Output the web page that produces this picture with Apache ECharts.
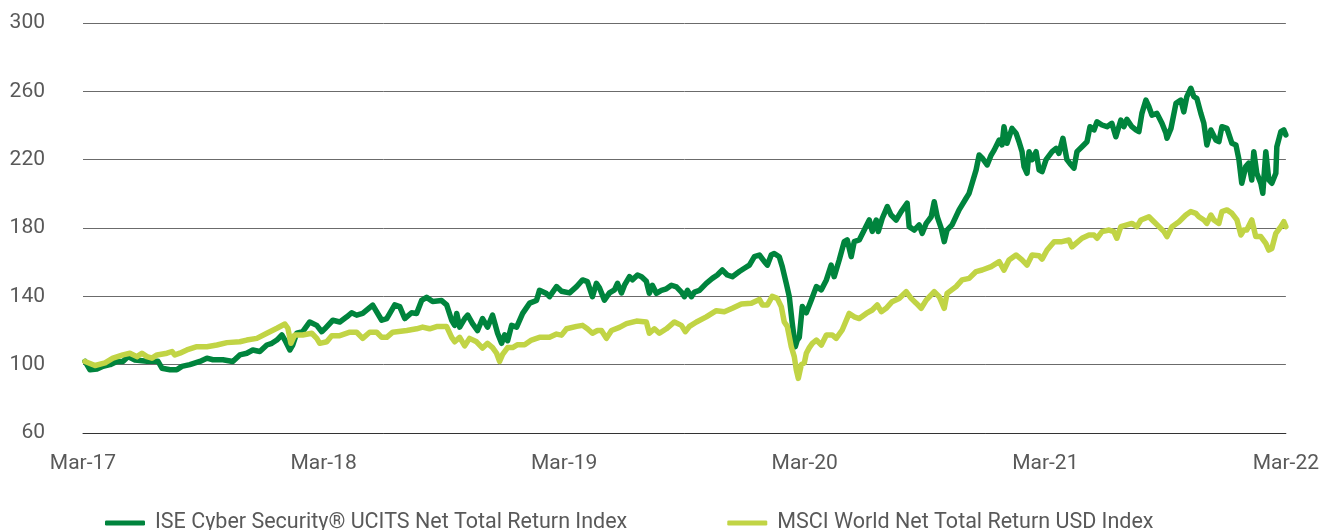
<!DOCTYPE html>
<html>
<head>
<meta charset="utf-8">
<script src="https://cdn.jsdelivr.net/npm/echarts@6/dist/echarts.min.js"></script>
<style>
html,body{margin:0;padding:0;background:#fff;}
#chart{width:1322px;height:530px;}
</style>
</head>
<body>
<div id="chart"></div>
<script>
// x positions in months since Mar-17
const tickLabels = ['Mar-17','Mar-18','Mar-19','Mar-20','Mar-21','Mar-22'];
const seriesNames = ['ISE Cyber Security® UCITS Net Total Return Index','MSCI World Net Total Return USD Index'];

const iseMonths = [0.10,0.35,0.70,1.00,1.35,1.69,1.99,2.24,2.59,3.19,3.74,3.94,4.34,4.68,4.93,5.33,5.83,6.18,6.48,6.98,7.47,7.82,8.17,8.47,8.82,9.17,9.42,9.67,9.92,10.07,10.32,10.46,10.66,10.96,11.31,11.66,11.91,12.06,12.46,12.81,13.16,13.40,13.65,13.95,14.45,14.90,15.15,15.55,15.80,16.05,16.39,16.64,16.89,17.14,17.44,17.89,18.14,18.39,18.54,18.64,18.79,19.04,19.19,19.43,19.68,19.93,20.18,20.43,20.68,20.88,21.03,21.18,21.38,21.63,21.93,22.28,22.62,22.77,23.12,23.27,23.62,23.87,24.27,24.62,24.92,25.16,25.41,25.61,25.76,26.01,26.26,26.51,26.66,26.86,27.01,27.26,27.41,27.66,27.86,28.10,28.25,28.40,28.60,28.85,29.10,29.35,29.60,29.85,30.00,30.15,30.35,30.50,30.75,31.09,31.39,31.64,31.89,32.14,32.39,32.74,32.99,33.24,33.49,33.74,33.99,34.14,34.33,34.48,34.73,34.88,35.08,35.23,35.38,35.53,35.63,35.73,35.88,36.08,36.33,36.58,36.83,37.08,37.32,37.47,37.72,37.97,38.12,38.32,38.47,38.72,38.97,39.22,39.37,39.57,39.67,39.87,40.12,40.31,40.56,40.81,41.11,41.21,41.46,41.71,41.86,42.06,42.31,42.46,42.61,42.81,42.96,43.10,43.35,43.70,44.05,44.20,44.35,44.55,44.70,44.85,45.10,45.30,45.45,45.70,45.84,45.94,46.09,46.34,46.54,46.69,46.84,46.94,47.09,47.19,47.34,47.54,47.69,47.84,48.04,48.34,48.54,48.68,48.88,49.08,49.28,49.43,49.58,49.83,50.08,50.23,50.43,50.58,50.83,51.08,51.32,51.52,51.77,51.92,52.07,52.32,52.52,52.67,52.82,53.02,53.17,53.32,53.57,53.82,54.02,54.07,54.27,54.52,54.76,54.91,55.06,55.26,55.41,55.56,55.76,55.91,56.06,56.26,56.51,56.66,56.81,57.06,57.31,57.51,57.66,57.80,58.00,58.15,58.30,58.40,58.55,58.75,58.85,59.00,59.15,59.30,59.50,59.55,59.75,59.90,60.00];
const iseValues = [101.9,97,97.5,99.1,100,101.9,101.9,104.7,102.7,102,102,97.9,97,97,99,100,101.9,103.8,102.9,102.9,101.9,105.7,106.7,108.6,107.7,111.5,112.5,114.4,117.4,114.4,108.6,111.5,118.4,119.3,125,123,119.3,121,126,125,128,130.4,129,130,134.9,126,127,135,134,127,130.4,130,137.6,139.4,137,137.5,135,126,123,130,122,127,129,124,120,127,122,129,118.4,112.5,117.4,114,123,122,130,136,137.6,143.5,141.6,139.8,145.7,143,142,145.7,149.6,148.6,139.8,147.6,145,137.8,142,143.8,147.6,142,146.5,151.5,149.7,152.5,151.5,148.8,141.8,146.5,141.8,143.5,144.4,146.5,145.5,142.5,139.8,143.5,139.8,142.5,143.5,147.6,150.5,152.5,155.4,152.5,151.5,154.5,156.4,158.3,163.2,164.2,160.3,158.3,164.2,165.1,163.2,157.4,147.6,139.8,124,110.5,114.4,116,134,130.4,137.8,145.7,143.8,149.6,158.3,151.5,161.3,172,173,163.2,172,173,178.8,184.7,178,184.7,178,185.7,192.5,187.6,184.7,189.6,194.5,180.8,178.8,181.8,176.9,182.7,186.6,195.4,186.6,179.8,172,178.8,181.8,190.6,197.4,200.3,206.2,214,222.7,221,216.9,222.7,225.6,231.5,228.6,239.3,229.6,238.3,235.5,230.5,224.7,215.9,212,224.7,220,224.7,214,213,220,224.7,226.6,223.7,232.5,220,217,215,224.7,227.6,230.5,239.3,237.4,242.2,240.3,239.3,241.3,233.4,243.2,239.3,243.6,239.3,237.4,236.4,247.1,254.9,251,246.1,247.1,241.3,235.4,232.5,238.3,253,254.9,248,256.9,261.8,256.9,255.9,247.1,241.3,228.6,237.4,231.5,230.5,239.3,238.3,229.6,228.6,220,206.2,216,218,208.1,224.7,212.1,206.2,200.3,224.7,208.1,206.2,212,227.6,236.4,237.4,234.5];

const msciMonths = [0.10,0.60,1.10,1.49,1.99,2.34,2.69,2.94,3.19,3.44,3.69,4.19,4.44,4.58,4.83,5.18,5.68,6.18,6.68,7.18,7.82,8.17,8.67,9.17,9.67,10.07,10.22,10.37,10.56,10.96,11.41,11.66,11.81,12.16,12.41,12.81,13.31,13.65,13.95,14.30,14.65,14.90,15.15,15.45,16.15,16.64,16.94,17.29,17.64,18.14,18.39,18.54,18.79,19.04,19.28,19.63,19.93,20.18,20.43,20.63,20.78,20.93,21.18,21.43,21.68,22.03,22.37,22.77,23.27,23.62,23.87,24.12,24.62,24.92,25.16,25.41,25.66,25.86,26.11,26.36,26.76,27.11,27.61,28.10,28.25,28.50,28.75,29.10,29.50,29.85,30.05,30.25,30.60,31.09,31.59,31.99,32.39,32.84,33.34,33.74,33.89,34.14,34.38,34.63,34.83,34.98,35.13,35.33,35.48,35.58,35.68,35.83,35.98,36.08,36.23,36.38,36.58,36.83,37.08,37.37,37.57,37.87,38.22,38.47,38.72,39.07,39.37,39.62,39.82,40.06,40.36,40.71,41.06,41.31,41.56,41.81,42.06,42.46,42.71,42.96,43.10,43.55,43.85,44.20,44.55,44.85,45.30,45.70,45.94,46.19,46.54,46.84,47.09,47.34,47.69,47.84,48.09,48.44,48.83,49.18,49.33,49.53,49.83,50.18,50.43,50.58,50.83,51.18,51.42,51.57,51.77,52.07,52.32,52.57,52.77,53.17,53.42,53.67,53.92,54.07,54.32,54.67,55.01,55.26,55.51,55.66,55.91,56.06,56.26,56.41,56.66,56.81,57.06,57.31,57.56,57.76,57.90,58.05,58.30,58.50,58.75,59.00,59.15,59.30,59.50,59.75,59.90,60.00];
const msciValues = [101.9,99.5,101,103.8,105.7,106.7,104.7,106.7,104.7,103.8,105.7,106.7,107.7,105.7,106.7,108.6,110.5,110.5,111.5,112.9,113.4,114.4,115.4,118.4,121.3,123.8,121.3,112.5,117.4,117.4,118.4,115.4,112.5,113.4,117,117,119,119,115.4,119,119,116,116,119,120,121,122,121,122.3,122.3,116,113.4,116,111,115.4,113.4,109.7,112.5,110,106.7,101.9,106,110,110,111.7,111.7,114.4,116,116,117.9,117.3,121,122.4,123,121,118.4,120,120,115.4,120,121.8,124,125.5,125,118.4,121,118.4,121,125,123,119.3,122.4,125,128,131.6,131,133,135.5,136,138.2,135,135,140,138.8,134,125,122.4,110.5,104.7,97,92,100,101,106.7,110,112.5,114.4,111.5,117.4,117.4,115.4,120.3,130,128,127,130,132,135,131,133,136.9,138.8,142.7,138.8,136,133,137.8,142.7,139.8,133,141.7,145.7,149.6,150.5,154.5,155.4,157.4,160.3,155.4,161.3,164.2,161.3,158.3,164.2,163.7,161.8,167.1,172,172,173,169,171,174,175.9,175.9,174,177.9,178.8,177.9,174,180.8,181.8,182.7,180.8,184.7,186.6,183.7,180.8,177.9,175,180.8,183.7,187.6,189.6,188.6,186.6,184.7,182.7,187.6,184.7,182.7,189.6,190.6,188.6,184.7,175.9,178.8,178.8,184.7,175,175,171,167.1,168,176.9,180.8,183.7,180.8];

const yMin = 60, yMax = 300, yStep = 40;

const iseData = iseMonths.map((m, i) => [m, iseValues[i]]);
const msciData = msciMonths.map((m, i) => [m, msciValues[i]]);

const textColor = '#595959';
const fontSize = 21;
const chart = echarts.init(document.getElementById('chart'), null, {renderer: 'canvas'});
chart.setOption({
  animation: false,
  backgroundColor: '#ffffff',
  textStyle: {fontFamily: 'Roboto, sans-serif'},
  grid: {left: 83, right: 35, top: 23, bottom: 97, containLabel: false},
  legend: {
    left: 100, top: 507,
    itemWidth: 40, itemHeight: 5, itemGap: 100,
    icon: 'roundRect',
    textStyle: {fontSize: 21.5, color: textColor, fontFamily: 'Roboto, sans-serif', padding: [0,0,0,5]},
    data: seriesNames
  },
  xAxis: {
    type: 'value', min: 0, max: 60, interval: 12,
    axisLine: {show: true, lineStyle: {color: '#333', width: 1}},
    axisTick: {show: false},
    splitLine: {show: false},
    axisLabel: {
      margin: 20, fontSize: fontSize, color: textColor,
      formatter: v => tickLabels[Math.round(v / 12)] || ''
    }
  },
  yAxis: {
    type: 'value', min: yMin, max: yMax, interval: yStep,
    axisLine: {show: false},
    axisTick: {show: false},
    splitLine: {show: true, lineStyle: {color: '#6b6b6b', width: 1}},
    axisLabel: {margin: 38, fontSize: fontSize, color: textColor}
  },
  series: [
    {
      name: seriesNames[0], type: 'line', data: iseData,
      showSymbol: false, symbol: 'none',
      lineStyle: {color: '#00843d', width: 5.5, join: 'round', cap: 'round'},
      itemStyle: {color: '#00843d'}
    },
    {
      name: seriesNames[1], type: 'line', data: msciData,
      showSymbol: false, symbol: 'none',
      lineStyle: {color: '#c1d445', width: 5.5, join: 'round', cap: 'round'},
      itemStyle: {color: '#c1d445'}
    }
  ]
});
</script>
</body>
</html>
